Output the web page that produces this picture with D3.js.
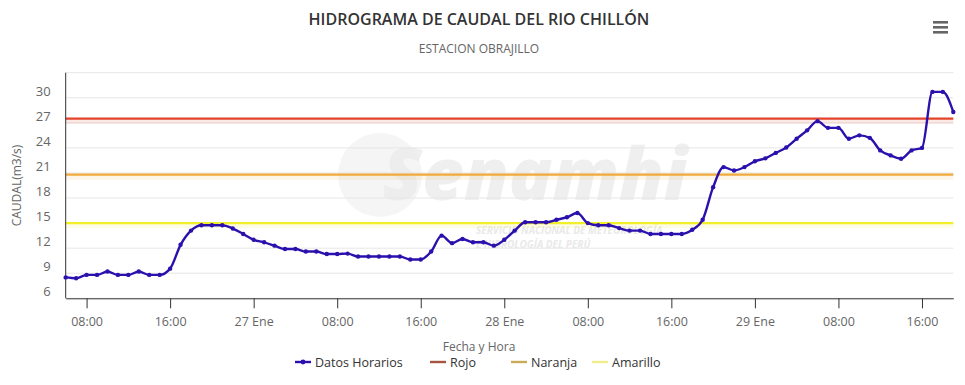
<!DOCTYPE html>
<html>
<head>
<meta charset="utf-8">
<script src="https://cdn.jsdelivr.net/npm/d3@7"></script>
<style>
  body { margin: 0; background: #fff; }
  svg { font-family: "Open Sans", sans-serif; }
</style>
</head>
<body>
<script>
// Hourly discharge, starting 26 Jan 06:00
var startTime = Date.UTC(2023, 0, 26, 6)
var caudal = [
  8.5, 8.4, 8.8, 8.8, 9.2, 8.8, 8.8, 9.2, 8.8, 8.8,
  9.55, 12.4, 14.1, 14.75, 14.75, 14.75, 14.35, 13.7, 13.0, 12.7,
  12.3, 11.9, 11.9, 11.6, 11.6, 11.3, 11.3, 11.35, 11.0, 11.0,
  11.0, 11.0, 11.0, 10.65, 10.65, 11.6, 13.5, 12.6, 13.1, 12.7,
  12.7, 12.3, 13.0, 14.1, 15.1, 15.1, 15.1, 15.4, 15.7, 16.2,
  15.0, 14.75, 14.75, 14.4, 14.1, 14.1, 13.7, 13.7, 13.7, 13.7,
  14.2, 15.4, 19.3, 21.7, 21.3, 21.7, 22.4, 22.75, 23.4, 24.05,
  25.1, 26.1, 27.2, 26.4, 26.4, 25.1, 25.5, 25.2, 23.7, 23.1,
  22.7, 23.7, 24.0, 30.7, 30.7, 28.3
]
var umbralNames = ["Rojo", "Naranja", "Amarillo"]
var umbralValues = [27.5, 20.8, 15]
var umbralColors = ["#e4432c", "#f0aa3c", "#f2ee2a"]
var legendColors = ["#a8553f", "#c9ab58", "#f1ee8a"]
var yTicks = [6, 9, 12, 15, 18, 21, 24, 27, 30]
var meses = ["Ene", "Feb", "Mar", "Abr", "May", "Jun", "Jul", "Ago", "Sep", "Oct", "Nov", "Dic"]

var lineColor = "#2c10ae"

var w = 965
var h = 385
var margin = {left: 65.7, right: 11.7, top: 72.7, bottom: 86.7}

var svg = d3.select("body")
  .append("svg")
  .attr("width", w)
  .attr("height", h)

var data = caudal.map(function(d, i){
  return {t: new Date(startTime + i * 3600000), v: d}
})

var xScale = d3.scaleUtc()
  .domain([data[0].t, data[data.length - 1].t])
  .range([margin.left, w - margin.right])

var yScale = d3.scaleLinear()
  .domain([6, 33])
  .range([h - margin.bottom, margin.top])

// Title and subtitle
svg.append("text")
  .attr("x", 479).attr("y", 25)
  .attr("text-anchor", "middle")
  .style("font-size", "16px")
  .style("font-weight", "600")
  .style("fill", "#333")
  .text("HIDROGRAMA DE CAUDAL DEL RIO CHILLÓN")

svg.append("text")
  .attr("x", 479).attr("y", 53)
  .attr("text-anchor", "middle")
  .style("font-size", "12px")
  .style("fill", "#666")
  .text("ESTACION OBRAJILLO")

// Menu icon
svg.append("g").selectAll("rect")
  .data([0, 1, 2])
  .enter()
  .append("rect")
  .attr("x", 933).attr("width", 15)
  .attr("y", function(d){ return 21 + d * 5 })
  .attr("height", 2.6)
  .attr("fill", "#666")

// Watermark
var wm = svg.append("g").style("fill", "#e9e9e9")
wm.append("circle")
  .attr("cx", 380).attr("cy", 175).attr("r", 42)
  .style("fill-opacity", 0.45)
wm.append("text")
  .attr("x", 535).attr("y", 200)
  .attr("text-anchor", "middle")
  .style("font-size", "72px")
  .style("font-weight", "900")
  .style("font-style", "italic")
  .style("fill-opacity", 0.75)
  .text("Senamhi")
wm.append("text")
  .attr("x", 476).attr("y", 234)
  .style("font-size", "10px")
  .style("font-weight", "700")
  .style("font-style", "italic")
  .text("SERVICIO NACIONAL DE METEOROLOGÍA")
wm.append("text")
  .attr("x", 476).attr("y", 248)
  .style("font-size", "10px")
  .style("font-weight", "700")
  .style("font-style", "italic")
  .text("E HIDROLOGÍA DEL PERÚ")

// Grid lines
svg.append("g")
  .selectAll("line")
  .data(d3.range(6, 34, 3))
  .enter()
  .append("line")
  .attr("x1", margin.left).attr("x2", w - margin.right)
  .attr("y1", function(d){ return yScale(d) })
  .attr("y2", function(d){ return yScale(d) })
  .attr("stroke", "#e6e6e6")

// Threshold lines
var umb = svg.append("g")
umbralValues.forEach(function(v, i){
  umb.append("line")
    .attr("x1", margin.left).attr("x2", w - margin.right)
    .attr("y1", yScale(v) + 2).attr("y2", yScale(v) + 2)
    .attr("stroke", umbralColors[i])
    .attr("stroke-opacity", 0.12)
    .attr("stroke-width", 6)
  umb.append("line")
    .attr("x1", margin.left).attr("x2", w - margin.right)
    .attr("y1", yScale(v)).attr("y2", yScale(v))
    .attr("stroke", umbralColors[i])
    .attr("stroke-width", 2.2)
})

// Y axis
var yAxis = svg.append("g")
  .attr("transform", "translate(" + margin.left + ",0)")
  .call(d3.axisLeft(yScale).tickValues(yTicks).tickSize(0).tickPadding(15))
yAxis.select(".domain")
  .attr("d", "M0," + yScale(33) + "V" + yScale(6))
  .attr("stroke", "#333")
yAxis.selectAll("text")
  .attr("dy", "-0.2em")
  .style("font-size", "13px")
  .style("fill", "#666")
  .style("font-family", "Open Sans, sans-serif")

svg.append("text")
  .attr("transform", "translate(21," + (yScale(19.5)) + ") rotate(-90)")
  .attr("text-anchor", "middle")
  .style("font-size", "12px")
  .style("fill", "#666")
  .text("CAUDAL(m3/s)")

// X axis
var fmt = function(d){
  if (d.getUTCHours() == 0) return d.getUTCDate() + " " + meses[d.getUTCMonth()]
  return d3.utcFormat("%H:%M")(d)
}
var xAxis = svg.append("g")
  .attr("transform", "translate(0," + (h - margin.bottom) + ")")
  .call(d3.axisBottom(xScale).ticks(d3.utcHour.every(8)).tickFormat(fmt).tickSize(10).tickSizeOuter(0).tickPadding(9))
xAxis.select(".domain").attr("stroke", "#333")
xAxis.selectAll(".tick line").attr("stroke", "#333")
xAxis.selectAll("text")
  .style("font-size", "12.5px")
  .style("fill", "#666")
  .style("font-family", "Open Sans, sans-serif")

svg.append("text")
  .attr("x", 479).attr("y", 351)
  .attr("text-anchor", "middle")
  .style("font-size", "12px")
  .style("fill", "#666")
  .text("Fecha y Hora")

// Data line
var line = d3.line()
  .x(function(d){ return xScale(d.t) })
  .y(function(d){ return yScale(d.v) })
  .curve(d3.curveMonotoneX)

svg.append("path")
  .datum(data)
  .attr("d", line)
  .attr("fill", "none")
  .attr("stroke", lineColor)
  .attr("stroke-width", 2.4)

svg.append("g")
  .selectAll("circle")
  .data(data)
  .enter()
  .append("circle")
  .attr("cx", function(d){ return xScale(d.t) })
  .attr("cy", function(d){ return yScale(d.v) })
  .attr("r", 2.2)
  .attr("fill", lineColor)

// Legend
var legendItems = [{name: "Datos Horarios", color: lineColor, x: 295, marker: true}]
var legendX = [430, 511, 592]
umbralNames.forEach(function(n, i){
  legendItems.push({name: n, color: legendColors[i], x: legendX[i], marker: false})
})
var legend = svg.append("g").attr("transform", "translate(0,362)")
legendItems.forEach(function(d){
  legend.append("line")
    .attr("x1", d.x).attr("x2", d.x + 16)
    .attr("stroke", d.color).attr("stroke-width", 2.4)
  if (d.marker) {
    legend.append("circle").attr("cx", d.x + 8).attr("r", 2.4).attr("fill", d.color)
  }
  legend.append("text")
    .attr("x", d.x + 20).attr("y", 4.5)
    .style("font-size", "12.5px")
    .style("fill", "#333")
    .text(d.name)
})
</script>
</body>
</html>
